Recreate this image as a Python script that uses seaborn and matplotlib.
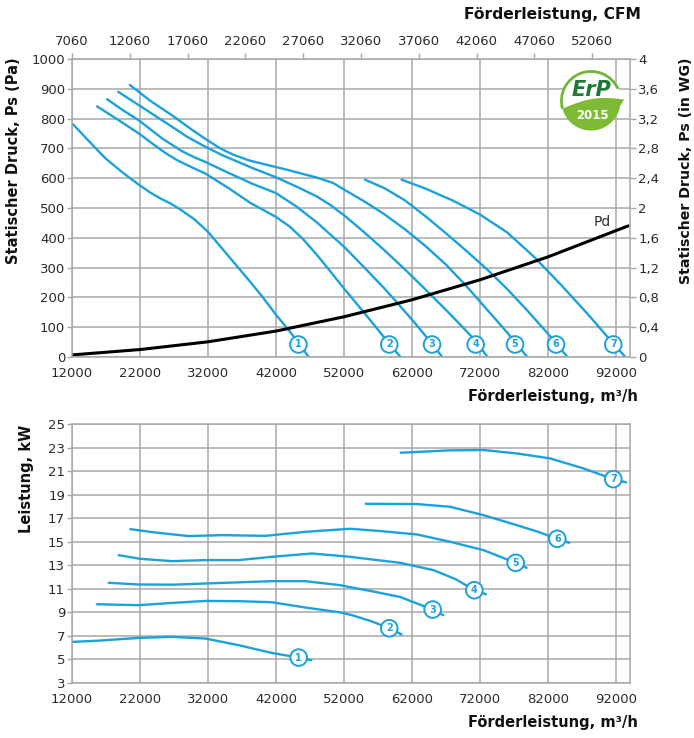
import numpy as np
import pandas as pd
import matplotlib
matplotlib.use("Agg")
import matplotlib.pyplot as plt
import seaborn as sns
from matplotlib.patches import Circle, Arc, Polygon

# ---------------- data ----------------
# static pressure curves (Pa) vs flow (m3/h)
ps1_x = [12150, 14500, 16900, 19500, 21840, 23500, 25000, 26500, 28000, 30000, 32000, 34000, 36000, 38000, 40000, 42000, 43800, 45300, 47000]
ps1_y = [781, 724, 667, 618, 578, 552, 532, 515, 494, 462, 420, 366, 312, 258, 202, 142, 92, 48, -6]
ps2_x = [15690, 18500, 21840, 24000, 25770, 27500, 29500, 31660, 35000, 38300, 40000, 42000, 44000, 46000, 48000, 50000, 52100, 54840, 56700, 58660, 60500]
ps2_y = [841, 800, 750, 713, 684, 660, 638, 615, 567, 516, 495, 470, 438, 395, 343, 287, 227, 152, 100, 44, -5]
ps3_x = [17160, 19500, 21840, 25280, 28220, 30000, 31660, 35000, 38550, 42000, 45000, 47990, 52100, 55000, 57780, 59750, 62500, 64950, 66600]
ps3_y = [865, 828, 794, 733, 690, 670, 654, 618, 581, 550, 505, 452, 368, 300, 234, 184, 112, 44, -4]
ps4_x = [18790, 21840, 26750, 29000, 31660, 34120, 38550, 42000, 45000, 47990, 50000, 52100, 55000, 58000, 61000, 64000, 67000, 70000, 71360, 73220]
ps4_y = [890, 845, 772, 738, 705, 677, 634, 603, 572, 539, 510, 474, 418, 357, 293, 226, 158, 87, 54, -4]
ps5_x = [20500, 23500, 26900, 29500, 31800, 33800, 35700, 38000, 40600, 43000, 45500, 48000, 50400, 52000, 55000, 58000, 61000, 64000, 67000, 70000, 73000, 76000, 77150, 79100]
ps5_y = [913, 860, 808, 765, 729, 700, 679, 660, 645, 632, 617, 602, 584, 562, 522, 478, 428, 372, 310, 238, 160, 82, 50, -4]
ps6_x = [55090, 58000, 61000, 64000, 67000, 70000, 73000, 76000, 79000, 82000, 83180, 85000]
ps6_y = [595, 566, 525, 472, 415, 356, 295, 228, 155, 78, 46, -4]
ps7_x = [60480, 64000, 68000, 72000, 76000, 80000, 84000, 88000, 91600, 93570]
ps7_y = [595, 565, 525, 478, 418, 335, 240, 140, 45, -5]

# dynamic pressure Pd
pd_x = [12000, 22000, 32000, 42000, 52000, 62000, 72000, 82000, 93800]
pd_y = [7, 25, 51, 87, 135, 192, 259, 336, 440]

# power curves (kW)
kw1_x = [12000, 16000, 21800, 26700, 31600, 36510, 41410, 45340, 47190]
kw1_y = [6.49, 6.6, 6.83, 6.92, 6.78, 6.21, 5.55, 5.16, 4.93]
kw2_x = [15680, 21800, 26700, 31600, 36500, 41410, 46310, 51410, 53180, 56000, 58660, 60480]
kw2_y = [9.69, 9.61, 9.80, 9.97, 9.95, 9.86, 9.41, 9.0, 8.76, 8.25, 7.65, 7.12]
kw3_x = [17390, 21800, 26700, 31600, 36500, 41410, 46310, 51410, 53180, 56500, 60240, 65040, 66600]
kw3_y = [11.51, 11.37, 11.35, 11.45, 11.55, 11.65, 11.65, 11.31, 11.11, 10.75, 10.31, 9.24, 8.76]
kw4_x = [18860, 22000, 26700, 31600, 36510, 41410, 47290, 52880, 56000, 60240, 65140, 68500, 71170, 72880]
kw4_y = [13.86, 13.55, 13.35, 13.44, 13.44, 13.72, 14.0, 13.72, 13.5, 13.21, 12.59, 11.8, 10.88, 10.54]
kw5_x = [20580, 24000, 29160, 34060, 40430, 46310, 52880, 57500, 62690, 67590, 72490, 77250, 78860]
kw5_y = [16.07, 15.8, 15.48, 15.56, 15.50, 15.84, 16.10, 15.9, 15.62, 15.0, 14.29, 13.21, 12.78]
kw6_x = [55190, 62690, 67590, 72490, 77400, 80500, 83370, 85130]
kw6_y = [18.22, 18.2, 17.97, 17.26, 16.41, 15.85, 15.25, 14.91]
kw7_x = [60330, 67590, 72490, 77400, 82290, 87190, 91600, 93470]
kw7_y = [22.56, 22.76, 22.79, 22.5, 22.08, 21.23, 20.32, 20.04]

curve_ids = ["1", "2", "3", "4", "5", "6", "7"]
ps_label_x = [45300, 58660, 64950, 71360, 77150, 83180, 91600]
ps_label_y = [42, 42, 42, 42, 42, 42, 42]
kw_label_x = [45340, 58660, 65040, 71170, 77250, 83370, 91600]
kw_label_y = [5.16, 7.65, 9.24, 10.88, 13.21, 15.25, 20.32]

flow_ticks = [12000, 22000, 32000, 42000, 52000, 62000, 72000, 82000, 92000]
cfm_ticks = [7060, 12060, 17060, 22060, 27060, 32060, 37060, 42060, 47060, 52060]
pa_ticks = list(range(0, 1001, 100))
wg_ticks = [0, 0.4, 0.8, 1.2, 1.6, 2, 2.4, 2.8, 3.2, 3.6, 4]
wg_labels = ["0", "0,4", "0,8", "1,2", "1,6", "2", "2,4", "2,8", "3,2", "3,6", "4"]
kw_ticks = list(range(3, 26, 2))

# ---------------- style ----------------
sns.set_theme(style="white")
plt.rcParams["font.family"] = ["DejaVu Sans"]
BLUE = "#1ba1db"
GRID = "#a8a8a8"
TXT = "#2b2b2b"
M3_PER_CFM = 1.6998

ps_x = [ps1_x, ps2_x, ps3_x, ps4_x, ps5_x, ps6_x, ps7_x]
ps_y = [ps1_y, ps2_y, ps3_y, ps4_y, ps5_y, ps6_y, ps7_y]
kw_x = [kw1_x, kw2_x, kw3_x, kw4_x, kw5_x, kw6_x, kw7_x]
kw_y = [kw1_y, kw2_y, kw3_y, kw4_y, kw5_y, kw6_y, kw7_y]

df_ps = pd.concat([pd.DataFrame({"flow": x, "val": y, "curve": c})
                   for x, y, c in zip(ps_x, ps_y, curve_ids)], ignore_index=True)
df_kw = pd.concat([pd.DataFrame({"flow": x, "val": y, "curve": c})
                   for x, y, c in zip(kw_x, kw_y, curve_ids)], ignore_index=True)
df_pd = pd.DataFrame({"flow": pd_x, "val": pd_y})

W, H = 694, 738
fig = plt.figure(figsize=(W / 100, H / 100), dpi=100)


def fx(px):
    return px / W


def fy(py):
    return 1 - py / H


XMIN, XMAX = 12000, 94060
ax1 = fig.add_axes([fx(72), fy(357), fx(630) - fx(72), fy(59) - fy(357)])
ax2 = fig.add_axes([fx(72), fy(683), fx(630) - fx(72), fy(424) - fy(683)])


def style_axes(ax):
    ax.grid(True, color=GRID, lw=1.1)
    ax.set_axisbelow(True)
    for s in ax.spines.values():
        s.set_color(GRID)
        s.set_linewidth(1.1)
    ax.tick_params(axis="y", which="major", left=True, length=3.5, width=1, color=GRID,
                   pad=1.5, labelsize=9.5, labelcolor=TXT)
    ax.tick_params(axis="x", which="major", bottom=True, length=0, pad=7.5,
                   labelsize=9.5, labelcolor=TXT)
    ax.set_xlabel("")
    ax.set_ylabel("")


def circled(ax, ids, xs, ys):
    for cid, lx, ly in zip(ids, xs, ys):
        ax.text(lx, ly, cid, color=BLUE, fontsize=7, fontweight="bold", ha="center", va="center",
                bbox=dict(boxstyle="circle,pad=0.34", fc="white", ec=BLUE, lw=1.4), zorder=5)


# ---- top chart ----
sns.lineplot(data=df_ps, x="flow", y="val", hue="curve", estimator=None,
             sort=False, palette=[BLUE] * 7, legend=False, lw=1.7, ax=ax1)
sns.lineplot(data=df_pd, x="flow", y="val", color="black", lw=2.2, ax=ax1,
             estimator=None, sort=False)
for ln in ax1.lines:
    ln.set_solid_joinstyle("round")
ax1.set_xlim(XMIN, XMAX)
ax1.set_ylim(0, 1000)
ax1.set_xticks(flow_ticks)
ax1.set_yticks(pa_ticks)
style_axes(ax1)
circled(ax1, curve_ids, ps_label_x, ps_label_y)
ax1.text(89950, 452, "Pd", fontsize=10, color=TXT, ha="center", va="center")

ax1_top = ax1.secondary_xaxis("top", functions=(lambda q: q / M3_PER_CFM, lambda c: c * M3_PER_CFM))
ax1_top.set_xticks(cfm_ticks)
ax1_top.set_xticklabels([str(t) for t in cfm_ticks])
ax1_top.tick_params(length=4, width=1, color=GRID, pad=4, labelsize=9.5, labelcolor=TXT)
ax1_top.spines["top"].set_visible(False)

ax1_r = ax1.secondary_yaxis("right", functions=(lambda p: p / 250, lambda w: w * 250))
ax1_r.set_yticks(wg_ticks)
ax1_r.set_yticklabels(wg_labels)
ax1_r.tick_params(length=4, width=1, color=GRID, pad=2, labelsize=9.5, labelcolor=TXT)
ax1_r.spines["right"].set_visible(False)

# ---- bottom chart ----
sns.lineplot(data=df_kw, x="flow", y="val", hue="curve", estimator=None,
             sort=False, palette=[BLUE] * 7, legend=False, lw=1.7, ax=ax2)
for ln in ax2.lines:
    ln.set_solid_joinstyle("round")
ax2.set_xlim(XMIN, XMAX)
ax2.set_ylim(3, 25)
ax2.set_xticks(flow_ticks)
ax2.set_yticks(kw_ticks)
style_axes(ax2)
circled(ax2, curve_ids, kw_label_x, kw_label_y)

# ---- labels ----
lab_kw = dict(fontsize=10.5, fontweight="bold", color="#111111")
fig.text(fx(641), fy(14), "Förderleistung, CFM", ha="right", va="center",
         **{**lab_kw, "fontsize": 11.2})
fig.text(fx(638), fy(397), "Förderleistung, m³/h", ha="right", va="center", **lab_kw)
fig.text(fx(638), fy(723), "Förderleistung, m³/h", ha="right", va="center", **lab_kw)
fig.text(fx(14), fy(57), "Statischer Druck, Ps (Pa)", rotation=90, ha="center", va="top", **lab_kw)
fig.text(fx(686), fy(57), "Statischer Druck, Ps (in WG)", rotation=90, ha="center", va="top",
         **{**lab_kw, "fontsize": 10.2})
fig.text(fx(27), fy(425), "Leistung, kW", rotation=90, ha="center", va="top", **lab_kw)

# ---- ErP logo ----
lax = fig.add_axes([fx(591 - 34), fy(101 + 34), fx(68), 68 / H])
lax.set_xlim(-1.15, 1.15)
lax.set_ylim(-1.15, 1.15)
lax.set_aspect("equal")
lax.axis("off")
lax.add_patch(Circle((0, 0), 1.0, fc="white", ec="none"))
lax.add_patch(Arc((0, 0), 2.0, 2.0, theta1=25, theta2=195, color="#72b633", lw=2.0))
th = np.linspace(np.deg2rad(195), np.deg2rad(350), 40)
pts = list(zip(np.cos(th), np.sin(th)))
pts.append((1.12, 0.05))
tt = np.linspace(0, 1, 30)
bx = 1.12 - 2.09 * tt
by = 0.05 - 0.31 * tt + 0.18 * np.sin(np.pi * tt)
pts += list(zip(bx, by))
lax.add_patch(Polygon(pts, closed=True, fc="#7dbb36", ec="none"))
lax.text(0.02, 0.38, "ErP", fontsize=15, fontweight="bold", fontstyle="italic",
         color="#1d7a32", ha="center", va="center")
lax.text(0.05, -0.5, "2015", fontsize=8.5, fontweight="bold", color="white",
         ha="center", va="center")

fig.savefig("out.png", dpi=100)
